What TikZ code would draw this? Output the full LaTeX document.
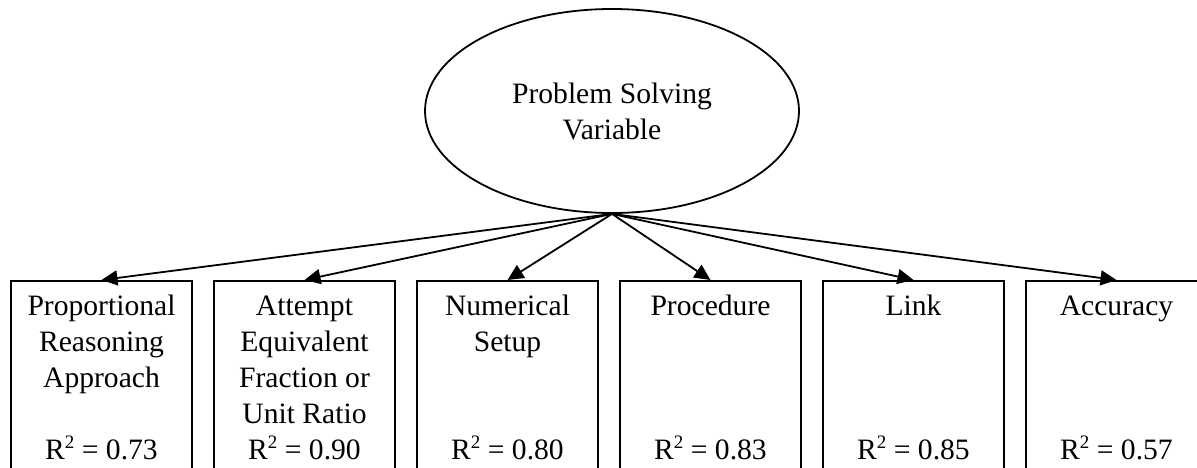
\documentclass[tikz,border=0pt]{standalone}
\usepackage{fontspec}
\setmainfont{Liberation Serif}
\usetikzlibrary{arrows.meta,shapes.geometric}
% R squared with a small, cap-high superscript
\newcommand{\rsq}{R\raisebox{0.36em}{\fontsize{19}{19}\selectfont 2}}
\begin{document}
\begin{tikzpicture}[x=1pt,y=-1pt,
  every node/.style={font=\fontsize{29.6}{36}\selectfont, inner sep=0pt},
  latent/.style={ellipse, draw, line width=1.8pt, minimum width=374pt, minimum height=204pt, align=center},
  obsbox/.style={rectangle, draw, line width=1.8pt, minimum width=181pt, minimum height=240pt, anchor=north},
  boxtext/.style={anchor=base, align=center},
  path/.style={line width=1.8pt, -{Triangle[length=16pt,width=15pt]}}]
\useasboundingbox (0,0) rectangle (1197,468);
\clip (0,0) rectangle (1197,468);
\fill[white] (0,0) rectangle (1197,468);

% latent variable
\node[latent] (ps) at (612,111) {Problem Solving\\Variable};

% observed indicators
\foreach \i/\cx in {1/101.5,2/304.5,3/507.5,4/710.5,5/913.5,6/1116.5}{
  \node[obsbox] (b\i) at (\cx,280) {};
}

% labels (anchored at the baseline of their last line)
\node[boxtext] (t1) at (101.5,387) {Proportional\\Reasoning\\Approach};
\node[boxtext] (t2) at (304.5,423) {Attempt\\Equivalent\\Fraction or\\Unit Ratio};
\node[boxtext] (t3) at (507.5,351) {Numerical\\Setup};
\node[boxtext] (t4) at (710.5,315) {Procedure};
\node[boxtext] (t5) at (913.5,315) {Link};
\node[boxtext] (t6) at (1116.5,315) {Accuracy};

\node[boxtext] (r1) at (101.5,459) {\rsq{} = 0.73};
\node[boxtext] (r2) at (304.5,459) {\rsq{} = 0.90};
\node[boxtext] (r3) at (507.5,459) {\rsq{} = 0.80};
\node[boxtext] (r4) at (710.5,459) {\rsq{} = 0.83};
\node[boxtext] (r5) at (913.5,459) {\rsq{} = 0.85};
\node[boxtext] (r6) at (1116.5,459) {\rsq{} = 0.57};

% loadings
\foreach \i in {1,...,6}{
  \draw[path] (ps.south) -- (b\i.north);
}
\end{tikzpicture}
\end{document}
